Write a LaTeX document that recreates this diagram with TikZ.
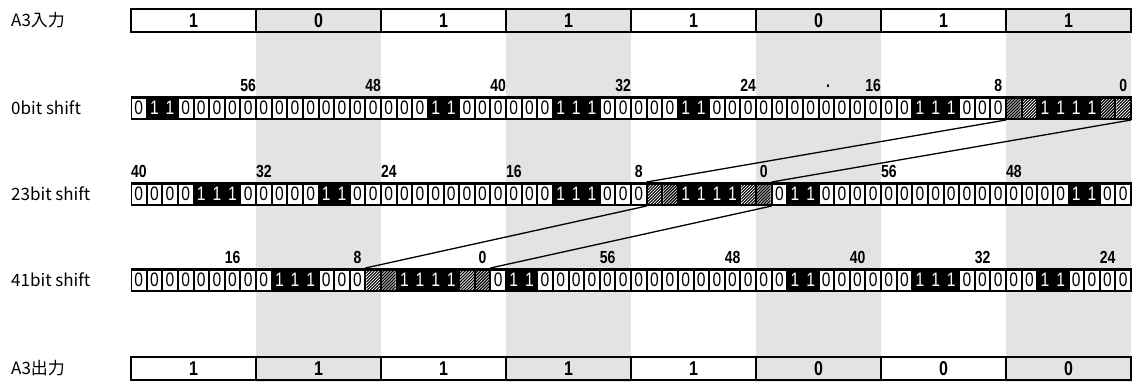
\documentclass[tikz,border=0pt]{standalone}
\usepackage{fontspec}
\setmainfont{Liberation Sans}
\newfontfamily\jpf{Noto Sans CJK JP}
\newfontfamily\numf[FakeStretch=0.8]{Liberation Sans}
\tikzset{
  lbl/.style={anchor=west, inner sep=0, font=\jpf\fontsize{17}{17}\selectfont},
  boxcell/.style={draw=black, line width=2.6pt, minimum width=125pt, minimum height=23pt, inner sep=0, outer sep=0, anchor=north west, font=\numf\bfseries\fontsize{20}{20}\selectfont},
  bitcell/.style={inner sep=0, outer sep=0, minimum width=15.625pt, minimum height=24pt, anchor=north west, font=\numf\fontsize{19.5}{19.5}\selectfont},
  one/.style={bitcell, text=white},
  zero/.style={bitcell, text=black},
  hatchcell/.style={bitcell},
  numlbl/.style={inner sep=0, font=\numf\bfseries\fontsize{17.5}{17.5}\selectfont},
  conn/.style={draw=black, line width=1.3pt},
  band/.style={fill=black!11},
}
\def\rowbits{{0,1,1,0,0,0,0,0,0,0,0,0,0,0,0,0,0,0,0,1,1,0,0,0,0,0,0,1,1,1,0,0,0,0,0,1,1,0,0,0,0,0,0,0,0,0,0,0,0,0,1,1,1,0,0,0,2,2,1,1,1,1,2,2}}
\begin{document}
\begin{tikzpicture}[x=1pt,y=-1pt]
\useasboundingbox (0,0) rectangle (1135,383);
% stippled columns
\foreach \k in {1,3,5,7} \fill[band] (131+125*\k,8) rectangle (256+125*\k,382);
% row labels
\node[lbl] (lblA) at (11,20.5) {A3入力};
\node[lbl] (lbl0) at (11,108) {0bit shift};
\node[lbl] (lbl23) at (11,194) {23bit shift};
\node[lbl] (lbl41) at (11,280) {41bit shift};
\node[lbl] (lblB) at (11,368.5) {A3出力};
% input and output boxes
\foreach \v [count=\i from 0] in {1,0,1,1,1,0,1,1}
  \node[boxcell] (t\i) at (131+125*\i,9) {\v};
\foreach \v [count=\i from 0] in {1,1,1,1,1,0,0,0}
  \node[boxcell] (b\i) at (131+125*\i,357) {\v};
% bit rows
\foreach \r/\s/\yt in {0/0/96,1/23/182,2/41/268} {
  \fill[black] (131,\yt) rectangle (1132,\yt+24);
  \foreach \c in {0,...,63} {
    \pgfmathtruncatemacro\v{\rowbits[int(mod(\c+\s,64))]}
    \pgfmathsetmacro\xl{131+\c*15.625}
    \ifnum\v=0
      \fill[white] (\xl+1,\yt+2.5) rectangle (\xl+14.625,\yt+21.5);
      \node[zero] (r\r-\c) at (\xl,\yt) {0};
    \else\ifnum\v=1
      \node[one] (r\r-\c) at (\xl,\yt) {1};
    \else
      \fill[white] (\xl+1,\yt+2.5) rectangle (\xl+14.625,\yt+21.5);
      \begin{scope}
        \clip (\xl+1,\yt+2.5) rectangle (\xl+14.625,\yt+21.5);
        \foreach \d in {-24,-21,...,16} \draw[line width=1.2pt] (\xl+\d,\yt+24) -- ++(24,-24);
      \end{scope}
      \node[hatchcell] (r\r-\c) at (\xl,\yt) {};
    \fi\fi
  }
}
% bit position labels
\foreach \r/\o/\yt in {0/63/96,1/40/182,2/22/268} {
  \foreach \bt in {0,8,...,56} {
    \pgfmathtruncatemacro\cc{mod(\o-\bt+64,64)}
    \node[numlbl] (n\r-\bt) at (131+\cc*15.625+7.8,\yt-11) {\bt};
  }
}
\node[numlbl] (dot) at (828,86) {.};
% connectors
\draw[conn] (r0-56.south west) -- (r1-33.north west);
\draw[conn] (r0-63.south east) -- (r1-40.north east);
\draw[conn] (r1-33.south west) -- (r2-15.north west);
\draw[conn] (r1-40.south east) -- (r2-22.north east);
\end{tikzpicture}
\end{document}
